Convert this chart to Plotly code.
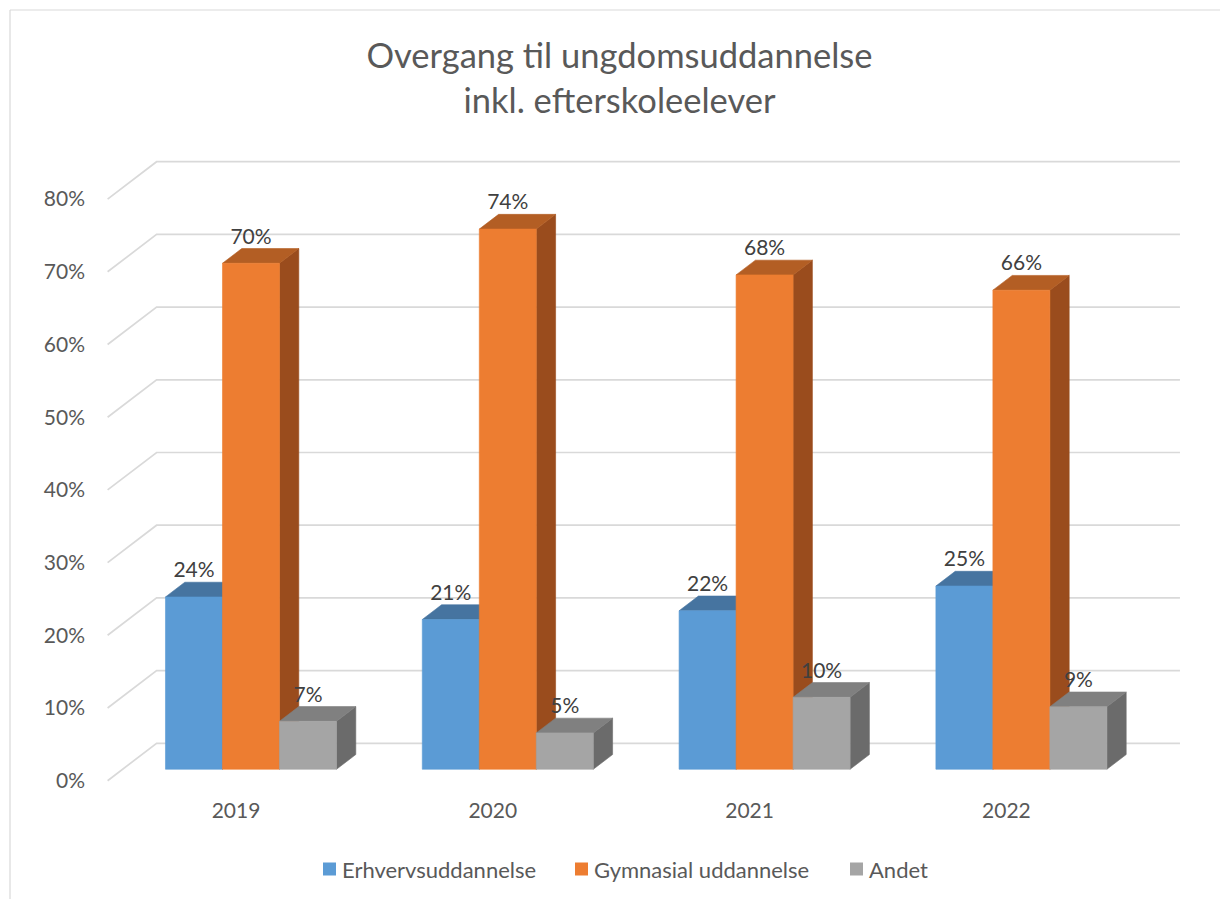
import plotly.graph_objects as go

# ---------------- data ----------------
years = ["2019", "2020", "2021", "2022"]
series_names = ["Erhvervsuddannelse", "Gymnasial uddannelse", "Andet"]
erhverv = [23.7, 20.6, 21.8, 25.2]
gymnasial = [69.6, 74.3, 68.0, 65.9]
andet = [6.6, 5.0, 9.9, 8.6]
y_ticks = [0, 10, 20, 30, 40, 50, 60, 70, 80]

# ---------------- styling ----------------
FONT = "Lato, 'Open Sans', sans-serif"
front_cols = ["#5B9BD5", "#ED7D31", "#A5A5A5"]
top_cols = ["#4674A0", "#B35E24", "#808080"]
side_cols = ["#3C6690", "#9A4C1D", "#6B6B6B"]
GRID = "#D9D9D9"

# pixel geometry of the plot area
W_PX, H_PX = 1220, 899
L, R = 92, 30
TOP_PX, BOT_PX = 150, 796
T, B = TOP_PX, H_PX - BOT_PX
PX_X = 256.8   # pixels per category unit
PX_Y = 7.27    # pixels per percent
X0_PX = 236.0  # pixel of category 0 (front plane)
Y0_PX = 780.7  # pixel of 0% (front plane)

x_range = [(L - X0_PX) / PX_X, (W_PX - R - X0_PX) / PX_X]
y_range = [-(BOT_PX - Y0_PX) / PX_Y, (Y0_PX - TOP_PX) / PX_Y]

# oblique depth projection (full depth of the floor)
DX = 49.0 / PX_X
DY = 37.4 / PX_Y
D0, D1 = 0.306, 0.70   # bar front / back depth fractions
BW = 57.0 / PX_X       # bar width in category units
WALL_L, WALL_R = -0.5, 3.485

fig = go.Figure()

# back wall + side wall gridlines
gx, gy = [], []
for p in y_ticks:
    gx += [WALL_L, WALL_L + DX, WALL_R + DX, None]
    gy += [p, p + DY, p + DY, None]
fig.add_trace(go.Scatter(x=gx, y=gy, mode="lines", line=dict(color=GRID, width=1.7),
                         hoverinfo="skip", showlegend=False))

def poly(xs, ys, color):
    fig.add_trace(go.Scatter(x=xs + [xs[0]], y=ys + [ys[0]], mode="lines", fill="toself",
                             fillcolor=color, line=dict(color=color, width=0.6),
                             hoverinfo="skip", showlegend=False))

all_series = [erhverv, gymnasial, andet]
lab_x, lab_y, lab_t = [], [], []
for i in range(len(years)):
    for k, vals in enumerate(all_series):
        v = vals[i]
        xl = i - 1.5 * BW + k * BW
        xr = xl + BW
        fx0, fx1 = xl + D0 * DX, xr + D0 * DX
        bx0, bx1 = xl + D1 * DX, xr + D1 * DX
        fy0, fy1 = D0 * DY, v + D0 * DY
        by0, by1 = D1 * DY, v + D1 * DY
        # side
        poly([fx1, bx1, bx1, fx1], [fy0, by0, by1, fy1], side_cols[k])
        # top
        poly([fx0, fx1, bx1, bx0], [fy1, fy1, by1, by1], top_cols[k])
        # front
        poly([fx0, fx1, fx1, fx0], [fy0, fy0, fy1, fy1], front_cols[k])
        lab_x.append((fx0 + fx1) / 2)
        lab_y.append(fy1 + 25.0 / PX_Y)
        lab_t.append(f"{round(v)}%")

fig.add_trace(go.Scatter(x=lab_x, y=lab_y, text=lab_t, mode="text", textposition="middle center",
                         textfont=dict(family=FONT, size=21, color="#404040"),
                         hoverinfo="skip", showlegend=False))

# ---------------- helpers for paper coordinates ----------------
PW = W_PX - L - R
PH = H_PX - T - B

def paper_x(px):
    return (px - L) / PW

def paper_y(py):
    return 1 - (py - T) / PH

shapes = []
# chart border (top + left)
shapes.append(dict(type="line", xref="paper", yref="paper", x0=paper_x(10), x1=paper_x(1222),
                   y0=paper_y(10), y1=paper_y(10), line=dict(color="#D9D9D9", width=1.2)))
shapes.append(dict(type="line", xref="paper", yref="paper", x0=paper_x(10), x1=paper_x(10),
                   y0=paper_y(10), y1=paper_y(901), line=dict(color="#D9D9D9", width=1.2)))

# legend (manual)
annotations = []
leg_sq_x = [323, 575, 850]
leg_y = 869
for k, name in enumerate(series_names):
    shapes.append(dict(type="rect", xref="paper", yref="paper",
                       x0=paper_x(leg_sq_x[k]), x1=paper_x(leg_sq_x[k] + 13),
                       y0=paper_y(leg_y + 6.5), y1=paper_y(leg_y - 6.5),
                       fillcolor=front_cols[k], line=dict(width=0)))
    annotations.append(dict(xref="paper", yref="paper", x=paper_x(leg_sq_x[k] + 17), y=paper_y(leg_y),
                            text=name, showarrow=False, xanchor="left", yanchor="middle",
                            font=dict(family=FONT, size=22, color="#595959")))

fig.update_layout(
    width=W_PX, height=H_PX,
    margin=dict(l=L, r=R, t=T, b=B),
    paper_bgcolor="white", plot_bgcolor="white",
    title=dict(text="Overgang til ungdomsuddannelse<br>inkl. efterskoleelever",
               x=619.5 / W_PX, xanchor="center", xref="container",
               y=1 - 68 / H_PX, yanchor="top", yref="container",
               font=dict(family=FONT, size=34.5, color="#595959")),
    xaxis=dict(range=x_range, tickvals=list(range(len(years))), ticktext=years,
               showgrid=False, zeroline=False, showline=False, ticks="",
               tickfont=dict(family=FONT, size=21, color="#595959"), fixedrange=True),
    yaxis=dict(range=y_range, tickvals=y_ticks, ticktext=[f"{t}%" for t in y_ticks],
               showgrid=False, zeroline=False, showline=False, ticks="",
               ticklabelstandoff=6,
               tickfont=dict(family=FONT, size=21, color="#595959"), fixedrange=True),
    shapes=shapes, annotations=annotations, showlegend=False,
)

fig.write_html("out.html")
